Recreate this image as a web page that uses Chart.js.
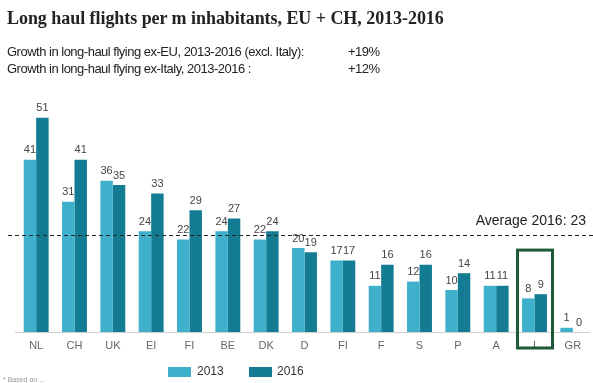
<!DOCTYPE html>
<html>
<head>
<meta charset="utf-8">
<script src="https://cdn.jsdelivr.net/npm/chart.js@4.4.1/dist/chart.umd.min.js"></script>
<style>
    body { margin: 0; background: #fff; }
    #wrap { position: relative; width: 593px; height: 383px; overflow: hidden; }
    #chart { position: absolute; left: 0; top: 0; }
    .t { position: absolute; white-space: nowrap; }
    #title { left: 7px; top: 8px; font: bold 18px "Liberation Serif", "DejaVu Serif", serif; color: #222; letter-spacing: -0.05px; }
    .sub { font: 13px "Liberation Sans", Arial, sans-serif; color: #222; letter-spacing: -0.5px; }
    .leg { font: 12px "Liberation Sans", Arial, sans-serif; color: #333; }
    .sw { position: absolute; width: 23px; height: 10px; }
</style>
</head>
<body>
<div id="wrap">
    <canvas id="chart" width="593" height="383"></canvas>
    <div class="t" id="title">Long haul flights per m inhabitants, EU + CH, 2013-2016</div>
    <div class="t sub" style="left:7px; top:44px;">Growth in long-haul flying ex-EU, 2013-2016 (excl. Italy):</div>
    <div class="t sub" style="left:348px; top:44px;">+19%</div>
    <div class="t sub" style="left:7px; top:61px;">Growth in long-haul flying ex-Italy, 2013-2016 :</div>
    <div class="t sub" style="left:348px; top:61px;">+12%</div>
    <div class="sw" style="left:168px; top:367px; background:#3fb0cc;"></div>
    <div class="t leg" style="left:197px; top:364px;">2013</div>
    <div class="sw" style="left:249px; top:367px; background:#137c93;"></div>
    <div class="t leg" style="left:277px; top:364px;">2016</div>
    <div class="t" style="left:3px; top:376px; font:7px 'Liberation Sans', Arial, sans-serif; color:#999;">* Based on ...</div>
</div>
<script>
// 데이터
const countries = ['NL', 'CH', 'UK', 'EI', 'FI', 'BE', 'DK', 'D', 'FI', 'F', 'S', 'P', 'A', 'I', 'GR'];
const flights2013 = [41, 31, 36, 24, 22, 24, 22, 20, 17, 11, 12, 10, 11, 8, 1];
const flights2016 = [51, 41, 35, 33, 29, 27, 24, 19, 17, 16, 16, 14, 11, 9, 0];
const average2016 = 23;
const highlightIndex = 13; // I

// 막대 위 숫자
const valueLabels = {
    id: 'valueLabels',
    afterDatasetsDraw(chart) {
        let ctx = chart.ctx;
        ctx.save();
        ctx.font = '11px "Liberation Sans", Arial, sans-serif';
        ctx.fillStyle = '#444';
        ctx.textAlign = 'center';
        ctx.textBaseline = 'bottom';
        chart.data.datasets.forEach((ds, di) => {
            chart.getDatasetMeta(di).data.forEach((bar, i) => {
                ctx.fillText(ds.data[i], bar.x, bar.y - 4);
            });
        });
        ctx.restore();
    }
};

// 평균선 + 강조 박스
const extras = {
    id: 'extras',
    afterDraw(chart) {
        let ctx = chart.ctx;
        let y = chart.scales.y;
        let x = chart.scales.x;
        let area = chart.chartArea;
        ctx.save();

        // 기준선
        ctx.strokeStyle = '#d0d0d0';
        ctx.lineWidth = 1;
        ctx.beginPath();
        ctx.moveTo(15, area.bottom + 0.5);
        ctx.lineTo(590, area.bottom + 0.5);
        ctx.stroke();

        let ay = Math.round(y.getPixelForValue(average2016)) + 0.5;
        ctx.strokeStyle = '#222';
        ctx.setLineDash([4, 3]);
        ctx.beginPath();
        ctx.moveTo(8, ay);
        ctx.lineTo(593, ay);
        ctx.stroke();
        ctx.setLineDash([]);

        ctx.font = '14px "Liberation Sans", Arial, sans-serif';
        ctx.fillStyle = '#222';
        ctx.textAlign = 'right';
        ctx.textBaseline = 'alphabetic';
        ctx.fillText('Average 2016: ' + average2016, 586, ay - 11);

        let cx = x.getPixelForValue(highlightIndex);
        let top = y.getPixelForValue(19.5);
        ctx.strokeStyle = '#1d5a3a';
        ctx.lineWidth = 3;
        ctx.strokeRect(cx - 17, top, 35, area.bottom + 16 - top);
        ctx.restore();
    }
};

let ctx = document.getElementById('chart').getContext('2d');
let flightChart = new Chart(ctx, {
    type: 'bar',
    data: {
        labels: countries,
        datasets: [{
            label: '2013',
            data: flights2013,
            backgroundColor: '#3fb0cc'
        }, {
            label: '2016',
            data: flights2016,
            backgroundColor: '#137c93'
        }]
    },
    options: {
        responsive: false,
        animation: false,
        categoryPercentage: 0.65,
        barPercentage: 1.0,
        layout: {
            padding: { top: 101, left: 17, right: 1, bottom: 0 }
        },
        plugins: {
            legend: { display: false },
            tooltip: { enabled: false }
        },
        scales: {
            x: {
                grid: { display: false, drawTicks: false },
                border: { display: false },
                ticks: {
                    color: '#666',
                    font: { size: 11, family: '"Liberation Sans", Arial, sans-serif' },
                    padding: 7,
                    autoSkip: false,
                    maxRotation: 0
                },
                afterFit: function(scale) {
                    scale.height = 51;
                }
            },
            y: {
                display: false,
                min: 0,
                max: 55
            }
        }
    },
    plugins: [valueLabels, extras]
});
</script>
</body>
</html>
